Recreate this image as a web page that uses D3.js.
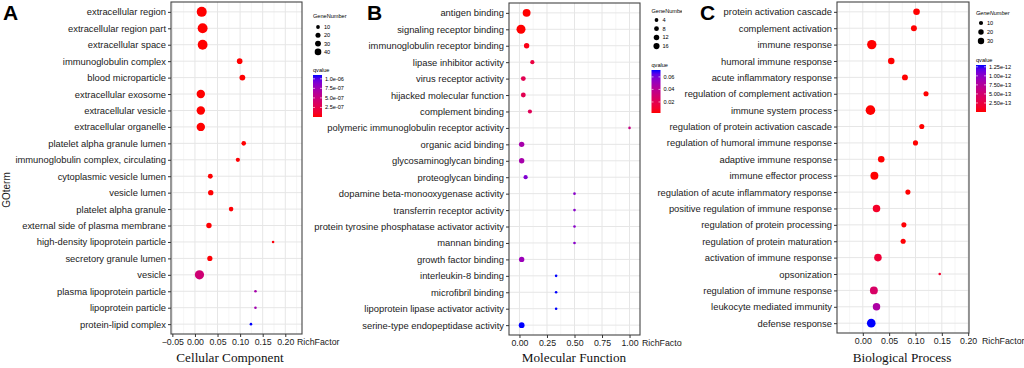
<!DOCTYPE html>
<html>
<head>
<meta charset="utf-8">
<script src="https://cdn.jsdelivr.net/npm/d3@7"></script>
<style>
  body { margin: 0; background: #fff; }
  svg { display: block; }
</style>
</head>
<body>
<script>
// Cellular Component
const ccTerms = ['extracellular region', 'extracellular region part', 'extracellular space',
  'immunoglobulin complex', 'blood microparticle', 'extracellular exosome', 'extracellular vesicle',
  'extracellular organelle', 'platelet alpha granule lumen', 'immunoglobulin complex, circulating',
  'cytoplasmic vesicle lumen', 'vesicle lumen', 'platelet alpha granule', 'external side of plasma membrane',
  'high-density lipoprotein particle', 'secretory granule lumen', 'vesicle', 'plasma lipoprotein particle',
  'lipoprotein particle', 'protein-lipid complex']
const ccRich = [0.015, 0.017, 0.017, 0.099, 0.105, 0.013, 0.013, 0.013, 0.108, 0.095,
  0.034, 0.035, 0.080, 0.031, 0.173, 0.033, 0.010, 0.134, 0.134, 0.124]
const ccGenes = [46, 45, 44, 11, 12, 30, 30, 30, 7, 6, 8, 10, 7, 10, 4, 9, 38, 4, 4, 4]
const ccQ = [1e-20, 1e-19, 1e-19, 2e-9, 3e-9, 1e-18, 1e-18, 1e-18, 4e-9, 8e-9,
  6e-9, 5e-9, 9e-9, 7e-9, 2e-8, 9e-9, 4.5e-7, 7.2e-7, 7.4e-7, 1.1e-6]
const ccSizeBreaks = [10, 20, 30, 40]
const ccQBreaks = [2.5e-7, 5e-7, 7.5e-7, 1e-6]
const ccXTicks = [-0.05, 0, 0.05, 0.10, 0.15, 0.20]

// Molecular Function
const mfTerms = ['antigen binding', 'signaling receptor binding', 'immunoglobulin receptor binding',
  'lipase inhibitor activity', 'virus receptor activity', 'hijacked molecular function', 'complement binding',
  'polymeric immunoglobulin receptor activity', 'organic acid binding', 'glycosaminoglycan binding',
  'proteoglycan binding', 'dopamine beta-monooxygenase activity', 'transferrin receptor activity',
  'protein tyrosine phosphatase activator activity', 'mannan binding', 'growth factor binding',
  'interleukin-8 binding', 'microfibril binding', 'lipoprotein lipase activator activity',
  'serine-type endopeptidase activity']
const mfRich = [0.065, 0.014, 0.065, 0.117, 0.035, 0.035, 0.095, 1.0, 0.02, 0.02,
  0.056, 0.5, 0.5, 0.5, 0.5, 0.02, 0.333, 0.333, 0.333, 0.02]
const mfGenes = [12, 17, 4, 2, 3, 3, 2, 1, 4, 4, 2, 1, 1, 1, 1, 4, 1, 1, 1, 5]
const mfQ = [0.0024, 0.0024, 0.005, 0.015, 0.02, 0.02, 0.022, 0.035, 0.047, 0.047,
  0.058, 0.056, 0.056, 0.056, 0.056, 0.051, 0.071, 0.071, 0.071, 0.071]
const mfSizeBreaks = [4, 8, 12, 16]
const mfQBreaks = [0.02, 0.04, 0.06]
const mfXTicks = [0, 0.25, 0.50, 0.75, 1.00]

// Biological Process
const bpTerms = ['protein activation cascade', 'complement activation', 'immune response',
  'humoral immune response', 'acute inflammatory response', 'regulation of complement activation',
  'immune system process', 'regulation of protein activation cascade', 'regulation of humoral immune response',
  'adaptive immune response', 'immune effector process', 'regulation of acute inflammatory response',
  'positive regulation of immune response', 'regulation of protein processing',
  'regulation of protein maturation', 'activation of immune response', 'opsonization',
  'regulation of immune response', 'leukocyte mediated immunity', 'defense response']
const bpRich = [0.102, 0.097, 0.017, 0.054, 0.080, 0.120, 0.0145, 0.112, 0.100, 0.035,
  0.022, 0.0856, 0.026, 0.078, 0.0766, 0.0287, 0.146, 0.021, 0.026, 0.016]
const bpGenes = [13, 10, 32, 13, 10, 7, 34, 7, 7, 13, 21, 7, 18, 7, 7, 19, 3, 21, 18, 26]
const bpQ = [1e-20, 1e-19, 1e-25, 1e-18, 1e-17, 1e-17, 1e-24, 1e-16, 1e-16, 1e-15,
  1e-15, 1e-15, 1.2e-13, 1e-14, 1e-14, 2e-13, 1.5e-13, 4.5e-13, 8e-13, 1.3e-12]
const bpSizeBreaks = [10, 20, 30]
const bpQBreaks = [2.5e-13, 5e-13, 7.5e-13, 1e-12, 1.25e-12]
const bpXTicks = [0, 0.05, 0.10, 0.15, 0.20]

const sans = 'Liberation Sans, Arial, sans-serif'
const serif = 'Liberation Serif, Times New Roman, serif'

const svg = d3.select('body').append('svg')
  .attr('width', 1024)
  .attr('height', 368)

function sci (d, k) {
  const [m, e] = d.toExponential(k).split('e')
  const n = +e
  return m + 'e' + (n < 0 ? '-' : '+') + String(Math.abs(n)).padStart(2, '0')
}

function drawPanel (o) {
  const g = svg.append('g')
  if (o.clipW) {
    const id = 'clip' + o.letter
    svg.append('clipPath').attr('id', id)
      .append('rect').attr('x', o.clipX).attr('y', 0).attr('width', o.clipW).attr('height', 368)
    g.attr('clip-path', `url(#${id})`)
  }

  const x = d3.scaleLinear().domain(o.xDomain).range([o.x0, o.x1])
  const y = d3.scalePoint().domain(o.terms).range([o.y0, o.y1]).padding(0.6)
  const sizeT = d3.scaleLinear().domain(d3.extent(o.genes)).range([0, 1])
  const r = n => o.rMin + (o.rMax - o.rMin) * Math.sqrt(Math.max(0, sizeT(n)))
  const color = d3.scaleLinear().domain(d3.extent(o.q)).range(['red', 'blue'])
    .interpolate(d3.interpolateLab).clamp(true)

  // panel background and grid
  g.append('rect')
    .attr('x', o.x0).attr('y', o.y0)
    .attr('width', o.x1 - o.x0).attr('height', o.y1 - o.y0)
    .attr('fill', '#fff')

  const step = o.xTicks[1] - o.xTicks[0]
  const minor = d3.range(o.xTicks[0] - step / 2, o.xDomain[1], step)
    .filter(v => v > o.xDomain[0] && v < o.xDomain[1])

  g.append('g').selectAll('line').data(minor).join('line')
    .attr('x1', d => x(d)).attr('x2', d => x(d))
    .attr('y1', o.y0).attr('y2', o.y1)
    .attr('stroke', '#f0f0f0').attr('stroke-width', 0.6)

  g.append('g').selectAll('line').data(o.xTicks).join('line')
    .attr('x1', d => x(d)).attr('x2', d => x(d))
    .attr('y1', o.y0).attr('y2', o.y1)
    .attr('stroke', '#e6e6e6').attr('stroke-width', 1)

  g.append('g').selectAll('line').data(o.terms).join('line')
    .attr('x1', o.x0).attr('x2', o.x1)
    .attr('y1', d => y(d)).attr('y2', d => y(d))
    .attr('stroke', '#e6e6e6').attr('stroke-width', 1)

  // points
  g.append('g').selectAll('circle').data(o.terms).join('circle')
    .attr('cx', (d, i) => x(o.rich[i]))
    .attr('cy', d => y(d))
    .attr('r', (d, i) => r(o.genes[i]))
    .attr('fill', (d, i) => color(o.q[i]))

  g.append('rect')
    .attr('x', o.x0).attr('y', o.y0)
    .attr('width', o.x1 - o.x0).attr('height', o.y1 - o.y0)
    .attr('fill', 'none')
    .attr('stroke', '#444').attr('stroke-width', 1.1)

  // axes
  const yAxis = g.append('g')
    .attr('transform', `translate(${o.x0},0)`)
    .call(d3.axisLeft(y).tickSize(3).tickPadding(2))
  yAxis.select('.domain').remove()
  yAxis.selectAll('line').attr('stroke', '#333')
  yAxis.selectAll('text')
    .attr('font-family', sans).attr('font-size', 9.4).attr('fill', '#1a1a1a')

  const xAxis = g.append('g')
    .attr('transform', `translate(0,${o.y1})`)
    .call(d3.axisBottom(x).tickValues(o.xTicks).tickFormat(d3.format('.2f')).tickSize(3).tickPadding(2))
  xAxis.select('.domain').remove()
  xAxis.selectAll('line').attr('stroke', '#333')
  xAxis.selectAll('text')
    .attr('font-family', sans).attr('font-size', 8.8).attr('fill', '#1a1a1a')

  g.append('text')
    .attr('x', o.x1 + o.richDx).attr('y', o.y1 + 10.5)
    .attr('font-family', sans).attr('font-size', 8.8).attr('fill', '#1a1a1a')
    .text('RichFactor')

  g.append('text')
    .attr('x', o.titleX).attr('y', 362)
    .attr('text-anchor', 'middle')
    .attr('font-family', serif).attr('font-size', 13.2).attr('fill', '#111')
    .text(o.title)

  g.append('text')
    .attr('x', o.letterX).attr('y', 20)
    .attr('font-family', sans).attr('font-size', 21).attr('font-weight', 'bold')
    .text(o.letter)

  // size legend
  const L = o.legend
  g.append('text')
    .attr('x', L.x).attr('y', L.sizeTitleY)
    .attr('font-family', sans).attr('font-size', 5.6)
    .attr('font-style', o.italicTitle ? 'italic' : 'normal')
    .text('GeneNumber')

  const keys = g.append('g').selectAll('g').data(o.sizeBreaks).join('g')
    .attr('transform', (d, i) => `translate(${L.x + 5},${L.keyY0 + i * L.keyStep})`)
  keys.append('circle').attr('r', d => r(d) * 0.7).attr('fill', '#000')
  keys.append('text')
    .attr('x', 6).attr('y', 2)
    .attr('font-family', sans).attr('font-size', 5.6)
    .text(d => d)

  // colour bar
  g.append('text')
    .attr('x', L.x).attr('y', L.barTop - 3)
    .attr('font-family', sans).attr('font-size', 5.6)
    .text('qvalue')

  const gid = 'grad' + o.letter
  const grad = svg.append('defs').append('linearGradient')
    .attr('id', gid).attr('x1', 0).attr('y1', 1).attr('x2', 0).attr('y2', 0)
  const qExt = d3.extent(o.q)
  d3.range(0, 1.0001, 0.1).forEach(t => {
    grad.append('stop').attr('offset', t)
      .attr('stop-color', color(qExt[0] + t * (qExt[1] - qExt[0])))
  })
  const barY = d3.scaleLinear().domain(qExt).range([L.barBottom, L.barTop])
  g.append('rect')
    .attr('x', L.x).attr('y', L.barTop)
    .attr('width', L.barW).attr('height', L.barBottom - L.barTop)
    .attr('fill', `url(#${gid})`)

  const bt = g.append('g').selectAll('g').data(o.qBreaks).join('g')
    .attr('transform', d => `translate(0,${barY(d)})`)
  bt.append('line').attr('x1', L.x).attr('x2', L.x + 2).attr('stroke', '#fff').attr('stroke-width', 0.6)
  bt.append('line').attr('x1', L.x + L.barW - 2).attr('x2', L.x + L.barW).attr('stroke', '#fff').attr('stroke-width', 0.6)
  bt.append('text')
    .attr('x', L.x + L.barW + 3).attr('y', 2)
    .attr('font-family', sans).attr('font-size', 5.6)
    .text(o.qFormat)
}

drawPanel({
  letter: 'A', letterX: 3, terms: ccTerms, rich: ccRich, genes: ccGenes, q: ccQ,
  xDomain: [-0.053, 0.237], xTicks: ccXTicks, x0: 171, x1: 302, y0: 2, y1: 334,
  rMin: 1.3, rMax: 5, title: 'Cellular Component', titleX: 230, richDx: -5,
  sizeBreaks: ccSizeBreaks, qBreaks: ccQBreaks, qFormat: d => sci(d, 1),
  legend: { x: 313, sizeTitleY: 18, keyY0: 27, keyStep: 8.3, barTop: 75, barBottom: 117, barW: 9 }
})

drawPanel({
  letter: 'B', letterX: 367, terms: mfTerms, rich: mfRich, genes: mfGenes, q: mfQ,
  xDomain: [-0.095, 1.095], xTicks: mfXTicks, x0: 509, x1: 640, y0: 3, y1: 335,
  rMin: 1.3, rMax: 4.5, title: 'Molecular Function', titleX: 574, richDx: 2,
  sizeBreaks: mfSizeBreaks, qBreaks: mfQBreaks, qFormat: d3.format('.2f'),
  clipX: 0, clipW: 682,
  legend: { x: 651.5, sizeTitleY: 13, keyY0: 20, keyStep: 8.7, barTop: 70, barBottom: 113, barW: 9 }
})

drawPanel({
  letter: 'C', letterX: 700, terms: bpTerms, rich: bpRich, genes: bpGenes, q: bpQ,
  xDomain: [-0.049, 0.2016], xTicks: bpXTicks, x0: 837, x1: 969, y0: 2, y1: 333,
  rMin: 1.3, rMax: 4.8, title: 'Biological Process', titleX: 902, richDx: 13,
  sizeBreaks: bpSizeBreaks, qBreaks: bpQBreaks, qFormat: d => sci(d, 2), italicTitle: true,
  legend: { x: 976, sizeTitleY: 15, keyY0: 23, keyStep: 9, barTop: 65, barBottom: 112, barW: 10 }
})

svg.append('text')
  .attr('transform', 'translate(10,190) rotate(-90)')
  .attr('text-anchor', 'middle')
  .attr('font-family', sans).attr('font-size', 10).attr('fill', '#1a1a1a')
  .text('GOterm')
</script>
</body>
</html>
